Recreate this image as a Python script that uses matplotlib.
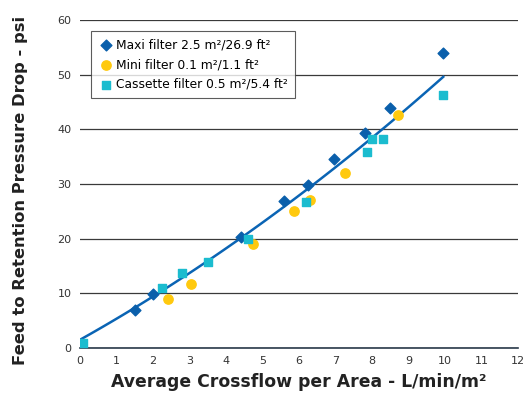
import matplotlib.pyplot as plt
import numpy as np

maxi_x = [1.5, 2.0, 4.4, 5.6, 6.25, 6.95, 7.8, 8.5, 9.95]
maxi_y = [7.0, 9.9, 20.3, 26.9, 29.8, 34.5, 39.3, 43.9, 53.9]

mini_x = [2.4, 3.05, 4.75, 5.85, 6.3, 7.25, 8.7]
mini_y = [9.0, 11.7, 19.1, 25.0, 27.1, 32.1, 42.6]

cass_x = [0.08, 2.25, 2.8, 3.5, 4.6, 6.2, 7.85, 8.0, 8.3, 9.95]
cass_y = [0.9, 11.0, 13.7, 15.7, 19.9, 26.7, 35.8, 38.2, 38.2, 46.3]

# trend line coefficients (quadratic)
trend_coef = [0.11, 3.74, 1.5]
trend_range = [0.0, 9.95]

plt.rcParams['font.family'] = 'DejaVu Sans'
fig = plt.figure(figsize=(5.26, 4.0), dpi=100)
ax = fig.add_axes([0.152, 0.13, 0.833, 0.82])

tx = np.linspace(trend_range[0], trend_range[1], 100)
ax.plot(tx, np.polyval(trend_coef, tx), color='#0a64b4', lw=1.8, zorder=2)

ax.scatter(maxi_x, maxi_y, marker='D', s=30, color='#0a5fab', zorder=3,
           label='Maxi filter 2.5 m\u00b2/26.9 ft\u00b2')
ax.scatter(mini_x, mini_y, marker='o', s=45, color='#ffc90e', zorder=3,
           label='Mini filter 0.1 m\u00b2/1.1 ft\u00b2')
ax.scatter(cass_x, cass_y, marker='s', s=40, color='#1bbccf', zorder=3,
           label='Cassette filter 0.5 m\u00b2/5.4 ft\u00b2')

ax.set_xlim(0, 12)
ax.set_ylim(0, 60)
ax.set_xticks(range(0, 13))
ax.set_yticks(range(0, 61, 10))
ax.tick_params(length=0, labelsize=8, colors='#333333', pad=6)
ax.grid(axis='y', color='#3a3a3a', lw=0.9)
ax.set_axisbelow(True)
for s in ['top', 'right', 'left']:
    ax.spines[s].set_visible(False)
ax.spines['bottom'].set_color('#2a3a4a')
ax.spines['bottom'].set_linewidth(1.2)

ax.set_xlabel('Average Crossflow per Area - L/min/m\u00b2', fontsize=12.4,
              fontweight='bold', color='#222222', labelpad=5)
ax.set_ylabel('Feed to Retention Pressure Drop - psi', fontsize=11.8,
              fontweight='bold', color='#222222')
ax.yaxis.set_label_coords(-0.118, 0.48)

leg = ax.legend(loc='upper left', bbox_to_anchor=(0.012, 0.985), fontsize=8.8,
                frameon=True, fancybox=False, edgecolor='#333333',
                handletextpad=0.2, borderpad=0.6, labelspacing=0.55,
                handlelength=1.2)
leg.get_frame().set_linewidth(0.8)

fig.savefig('out.png', dpi=100)
